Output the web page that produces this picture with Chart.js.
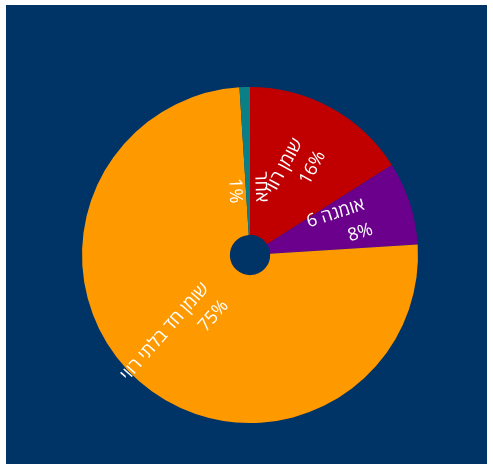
<!DOCTYPE html>
<html lang="he">
<head>
<meta charset="utf-8">
<script src="https://cdn.jsdelivr.net/npm/chart.js@4"></script>
<style>
  html, body { margin: 0; padding: 0; background: #fff; }
  #box {
    position: absolute;
    left: 6px; top: 5px;
    width: 481px; height: 459px;
    background: #003366;
  }
</style>
</head>
<body>
<div id="box"><canvas id="fatChart"></canvas></div>
<script>
// fat breakdown, clockwise from 12 o'clock
const categories = ["שומן רווי", "אומגה 6", "שומן חד בלתי רווי", "אחר"];
const shares = [16, 8, 75, 1];
const sliceColors = ["#c00000", "#6a008c", "#ff9900", "#0b7f86"];

// ------------------ radial labels ------------------
const radialLabels = {
  id: "radialLabels",
  afterDatasetsDraw(chart) {
    const ctx = chart.ctx;
    const arcs = chart.getDatasetMeta(0).data;
    const total = shares.reduce((a, b) => a + b, 0);

    arcs.forEach((arc, i) => {
      const { x, y, startAngle, endAngle, outerRadius } = arc.getProps(
        ["x", "y", "startAngle", "endAngle", "outerRadius"], true);
      const mid = (startAngle + endAngle) / 2;
      const fromTop = mid + Math.PI / 2;
      const flipped = fromTop > Math.PI;
      const r = outerRadius * (flipped ? 0.31 : 0.74);
      let rot = mid;
      if (flipped) rot -= Math.PI;

      ctx.save();
      ctx.translate(x + r * Math.cos(mid), y + r * Math.sin(mid));
      ctx.rotate(rot);
      ctx.direction = "rtl";
      ctx.textAlign = "right";
      ctx.textBaseline = "middle";
      ctx.fillStyle = "#ffffff";
      ctx.font = "18px 'Open Sans', 'DejaVu Sans', sans-serif";
      ctx.fillText(categories[i], 0, -13);
      ctx.fillText(Math.round(shares[i] / total * 100) + "%", 0, 13);
      ctx.restore();
    });
  }
};

new Chart(document.getElementById("fatChart"), {
  type: "doughnut",
  data: {
    labels: categories,
    datasets: [{
      data: shares,
      backgroundColor: sliceColors,
      borderWidth: 0,
      hoverOffset: 0
    }]
  },
  options: {
    responsive: true,
    maintainAspectRatio: false,
    animation: false,
    cutout: "12%",
    layout: {
      padding: { top: 82, bottom: 41, left: 76, right: 69 }
    },
    plugins: {
      legend: { display: false },
      tooltip: { enabled: false }
    }
  },
  plugins: [radialLabels]
});
</script>
</body>
</html>
